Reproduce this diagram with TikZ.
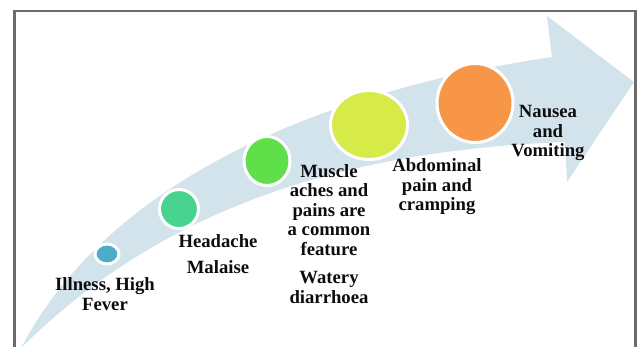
\documentclass[tikz,border=0pt]{standalone}
\usepackage{fontspec}
\setmainfont{Liberation Serif}
\usetikzlibrary{shapes.geometric}

\definecolor{bandblue}{HTML}{D2E3EB}
\definecolor{framegray}{HTML}{6B6B6B}
\definecolor{stageA}{HTML}{4BACC6}
\definecolor{stageB}{HTML}{48D48F}
\definecolor{stageC}{HTML}{5FE04A}
\definecolor{stageD}{HTML}{D6EA48}
\definecolor{stageE}{HTML}{F79646}

\begin{document}
\begin{tikzpicture}
	[x=1pt,y=-1pt,
	stage/.style={ellipse, draw=white, line width=3pt, inner sep=0pt},
	caption/.style={align=center, inner sep=0pt, text=black!95, font=\bfseries\fontsize{18.7}{19.5}\selectfont}]
	\useasboundingbox (0,0) rectangle (640,347);
	% frame
	\draw[framegray, line width=2.5pt] (14.5,352) -- (14.5,11) -- (635.5,11) -- (635.5,352);
	% curved arrow
	\fill[bandblue] (21,348) .. controls (112,175) and (330,90) .. (552,57) -- (547,16) -- (634,82) -- (567,182) -- (565,142) .. controls (360,150) and (170,200) .. (21,348) -- cycle;
	% stages
	\node (ill) [stage, fill=stageA, minimum width=24, minimum height=20] at (107,254) {};\node (head) [stage, fill=stageB, minimum width=39, minimum height=39] at (179,209) {};\node (muscle) [stage, fill=stageC, minimum width=46, minimum height=49] at (267,161) {};\node (abd) [stage, fill=stageD, minimum width=77, minimum height=69] at (369,125) {};\node (naus) [stage, fill=stageE, minimum width=76, minimum height=79] at (475,103) {};
	
	\node (illtext) [caption] at (105,294) {Illness, High\\Fever};
	\node (headtext) [caption] at (218,254) {Headache\\[7pt]Malaise};
	\node (muscletext) [caption] at (329,234) {Muscle\\aches and\\pains are\\a common\\feature\\[9pt]Watery\\diarrhoea};
	\node (abdtext) [caption] at (437,187) {Abdominal\\pain and\\cramping};
	\node (naustext) [caption] at (548,133) {Nausea\\and\\Vomiting};
\end{tikzpicture}
\end{document}
